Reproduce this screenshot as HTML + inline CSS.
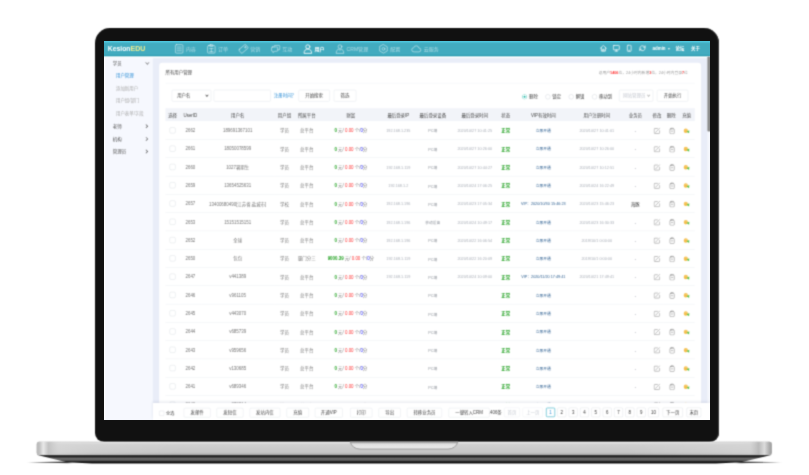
<!DOCTYPE html>
<html lang="zh-CN">
<head>
<meta charset="utf-8">
<title>KesionEDU 用户管理</title>
<style>
*{box-sizing:border-box;margin:0;padding:0}
html,body{width:809px;height:475px;overflow:hidden;background:#fff}
body{position:relative;font-family:"Liberation Sans","Noto Sans CJK SC",sans-serif}
#laptop{position:absolute;left:0;top:0;width:809px;height:475px}
#lid{position:absolute;left:94.6px;top:28px;width:624.4px;height:414px;background:#111;border-radius:15px 15px 9px 9px;box-shadow:inset -1px 0 0 #333;filter:url(#soft2)}
#screenwrap{position:absolute;left:104.1px;top:41.1px;width:605.3px;height:378.6px;overflow:hidden;background:#fff;filter:url(#soft)}
#screen{position:absolute;left:0;top:0;width:1920px;height:1200px;transform:scale(0.31526);transform-origin:0 0;background:#e9edf8;overflow:hidden;font-size:14px;color:#555;filter:none}
#basesvg{position:absolute;left:0;top:430px;width:809px;height:45px;filter:url(#soft2)}
/* ---------- app ---------- */
#hd{position:absolute;left:0;top:0;width:1920px;height:49px;background:#42abbf;border-top:5px solid #4fc7df;border-bottom:4px solid #2397ad}
#hdline{position:absolute;left:0;top:49px;width:1920px;height:5px;background:#fff}
#logo{position:absolute;left:12px;top:6px;font-size:21.6px;line-height:28px;color:#fff;font-weight:bold;letter-spacing:0}
#logo b{color:#f3ef8e;font-weight:bold;font-size:22.2px}
#side{position:absolute;left:0;top:49px;width:155px;height:1151px;background:#f6f8fe;border-left:3px solid #fff}
#main{position:absolute;left:155px;top:49px;width:1765px;height:1151px;background:#e9edf8}
#card{position:absolute;left:175px;top:69px;width:1719px;height:1200px;background:#fff;border-radius:10px}
#sbt{position:absolute;left:1914px;top:49px;width:6px;height:1100px;background:#f5f7fc}
#sb{position:absolute;left:1914px;top:49px;width:6px;height:238px;background:#8a8a8a;border-radius:3px}
#foot{position:absolute;left:155px;top:1148px;width:1765px;height:52px;background:#fff;box-shadow:0 -3px 8px rgba(120,130,160,.18)}

/* header nav */
#nav{position:absolute;left:207px;top:-2px;height:43px;display:flex;align-items:center}
#nav .it{display:flex;align-items:center;height:43px;padding:0 17.5px;color:rgba(255,255,255,.55);font-size:16px;white-space:nowrap}
#nav .it svg{width:27px;height:30px;margin-right:8px;overflow:visible;flex:none;stroke:rgba(255,255,255,.72);fill:none;stroke-width:2;stroke-linecap:round;stroke-linejoin:round}
#nav .it.on{color:#fff;font-weight:bold}
#nav .it.on svg{stroke-width:2.6;stroke:#fff}
#hr{position:absolute;right:0;top:-2px;height:43px}
#hr svg{position:absolute;top:8px;width:24px;height:24px;stroke:#fff;fill:none;stroke-width:2.2;stroke-linecap:round;stroke-linejoin:round}
#hr span{position:absolute;top:0;line-height:43px;font-size:14px;color:#fff;white-space:nowrap;font-weight:bold}
/* sidebar */
#side .g{position:absolute;left:25px;font-size:14px;color:#555;margin-top:1.5px;line-height:40px;height:40px;width:127px}
#side .g i{position:absolute;left:101px;top:15px;width:9px;height:9px;border-right:2px solid #555;border-bottom:2px solid #555;transform:rotate(-45deg)}
#side .g i.dn{transform:rotate(45deg);top:13px;left:105px}
#side .s{position:absolute;margin-top:1px;left:35px;font-size:14px;color:#aaa;line-height:40px;height:40px;white-space:nowrap}
#side .s.on{color:#2f8fd6}

/* card */
#card .tt{position:absolute;left:20px;top:18px;font-size:14px;color:#444;line-height:24px}
#card .st{position:absolute;right:42px;top:20px;font-size:12px;color:#999;line-height:24px;white-space:nowrap}
#card .st b{color:#f33}
#card .thbg{position:absolute;left:20px;top:143.5px;width:1679px;height:41.5px;background:#f2f4f9}
#card .ln{position:absolute;left:20px;top:64px;width:1679px;height:1px;background:#e6e9f0}
.ctl{position:absolute;top:86px;height:37px;border:1px solid #d5dae2;border-radius:4px;background:#fff;font-size:14px;line-height:35px;color:#444;white-space:nowrap;text-align:center}
.ctl.sel{text-align:left;padding-left:16px}
.ctl.sel i{position:absolute;right:9px;top:12px;width:7px;height:7px;border-right:2px solid #444;border-bottom:2px solid #444;transform:rotate(45deg)}
.lnk{position:absolute;top:86px;line-height:37px;font-size:14px;color:#2f8fd6;white-space:nowrap}
.rd{position:absolute;top:100px;width:16px;height:16px;border:1px solid #bfc5cd;border-radius:50%;background:#fff}
.rd.on{border:1px solid #ddf3f0;box-shadow:inset 0 0 0 4px #fff;background:#12b3a2}
.rl{position:absolute;top:88px;line-height:37px;font-size:14px;color:#444;white-space:nowrap}
/* table */
#tb{position:absolute;left:20px;top:145.5px;width:1679px;border-collapse:collapse;table-layout:fixed;font-size:14px;color:#757575}
#tb th{height:40px;background:transparent;font-weight:normal;font-size:14px;color:#444;text-align:center;white-space:nowrap;padding:0}
#tb td{height:58px;border-bottom:1px solid #e1e6ec;text-align:center;white-space:nowrap;padding:0;overflow:visible}
#tb td.l{color:#a9aeb7;font-size:12px;padding-top:3px}
#tb td.d{color:#8f949c;font-size:12px;padding-top:3px}
#tb .ck{display:inline-block;width:19px;height:19px;border:1px solid #c9ced6;border-radius:5px;vertical-align:middle;background:#fff}
#tb .g{color:#21a121;font-weight:bold}
#tb .r{color:#f33}
#tb .b{color:#22f}
#tb .ok{color:#21a121;font-weight:bold;font-size:14px}
#tb .v{color:#2a5d8f;font-size:12px}
#tb .dk{color:#333;font-size:14px}
#tb svg{width:22px;height:22px;vertical-align:middle;position:relative;top:1.5px;fill:none;stroke:#8b8b8b;stroke-width:1.7;stroke-linecap:round;stroke-linejoin:round}

/* footer */
#foot .b{position:absolute;top:16px;height:30px;border:1px solid #d5dae2;border-radius:4px;background:#fff;font-size:14px;line-height:28px;color:#444;text-align:center;white-space:nowrap}
#foot .p{position:absolute;top:15px;height:30px;border:1px solid #cfd4dc;border-radius:4px;background:#fff;font-size:14px;line-height:28px;color:#333;text-align:center;white-space:nowrap}
#foot .p.dis{color:#c6cad2;border-color:#e6e9ee}
#foot .p.on{border:2px solid #3fb3c9;color:#2f8fd6;line-height:26px}
#foot .ck{position:absolute;left:20px;top:25px;width:16px;height:16px;border:1px solid #cfd4dc;border-radius:3px;background:#fff}
#foot .t{position:absolute;font-size:13px;color:#444;line-height:30px;top:19px;white-space:nowrap}
</style>
</head>
<body>
<svg width="0" height="0" style="position:absolute"><defs>
<filter id="soft" x="0" y="0" width="1" height="1" color-interpolation-filters="sRGB"><feConvolveMatrix order="3" kernelMatrix="0.0324 0.1152 0.0324 0.1152 0.4096 0.1152 0.0324 0.1152 0.0324" edgeMode="duplicate" preserveAlpha="true"/></filter>
<filter id="soft2" x="-2%" y="-2%" width="104%" height="104%" color-interpolation-filters="sRGB"><feConvolveMatrix order="3" kernelMatrix="0.0306 0.1138 0.0306 0.1138 0.4224 0.1138 0.0306 0.1138 0.0306" edgeMode="none" preserveAlpha="false"/></filter>
</defs></svg>
<div id="laptop">
  <div id="lid"></div>
  <svg id="basesvg" viewBox="0 430 809 45">
    <defs>
      <linearGradient id="gv" x1="0" y1="0" x2="0" y2="1">
        <stop offset="0" stop-color="#b0b0b0"/><stop offset=".09" stop-color="#e6e6e6"/><stop offset=".2" stop-color="#cfcfcf"/><stop offset=".8" stop-color="#c6c6c6"/><stop offset="1" stop-color="#a8a8a8"/>
      </linearGradient>
      <linearGradient id="gh" x1="0" y1="0" x2="1" y2="0">
        <stop offset="0" stop-color="#b4b4b4"/><stop offset=".004" stop-color="#c2c2c2"/><stop offset=".009" stop-color="#e9e9e9"/><stop offset=".016" stop-color="#c2c2c2" stop-opacity=".95"/><stop offset=".03" stop-color="#dcdcdc" stop-opacity=".6"/><stop offset=".08" stop-color="#dadada" stop-opacity=".35"/><stop offset=".2" stop-color="#d6d6d6" stop-opacity="0"/>
        <stop offset=".8" stop-color="#d6d6d6" stop-opacity="0"/><stop offset=".92" stop-color="#dadada" stop-opacity=".35"/><stop offset=".97" stop-color="#d8d8d8" stop-opacity=".6"/><stop offset=".982" stop-color="#b8b8b8" stop-opacity=".95"/><stop offset=".99" stop-color="#dcdcdc"/><stop offset=".996" stop-color="#b0b0b0"/><stop offset="1" stop-color="#9a9a9a"/>
      </linearGradient>
      <linearGradient id="gu" gradientUnits="userSpaceOnUse" x1="0" y1="454.500" x2="0" y2="464">
        <stop offset="0" stop-color="#7a7a7a"/><stop offset=".14" stop-color="#1c1c1c"/><stop offset=".26" stop-color="#2a2a2a"/><stop offset=".42" stop-color="#6c6c6c"/><stop offset=".62" stop-color="#5a5a5a"/><stop offset=".8" stop-color="#0a0a0a"/><stop offset="1" stop-color="#111"/>
      </linearGradient>
      <linearGradient id="gn" x1="0" y1="0" x2="0" y2="1">
        <stop offset="0" stop-color="#8a8a8a"/><stop offset=".28" stop-color="#dedede"/><stop offset="1" stop-color="#ececec"/>
      </linearGradient>
      <filter id="bl" x="-10%" y="-400%" width="120%" height="900%"><feGaussianBlur stdDeviation="2 .5"/></filter>
    </defs>
    <path d="M28 462.300 L70 461.400 L70 463.200 Z" fill="#000" opacity=".8" filter="url(#bl)"/>
    <path d="M781 462.300 L738 461.400 L738 463.200 Z" fill="#000" opacity=".8" filter="url(#bl)"/>
    <path d="M37.500 454 L771 454 L771 455 Q757 458.500 741 462.200 L716 463.600 L92 463.600 L67 462.200 Q51 458.500 37.500 455 Z" fill="url(#gu)"/>
    <rect x="36.700" y="441.700" width="735.100" height="13.300" rx="2.200" fill="url(#gv)"/>
    <rect x="36.700" y="441.700" width="735.100" height="13.300" rx="2.200" fill="url(#gh)"/>
    <path d="M350 441.800 L458 441.800 Q455.500 449 448 449 L360 449 Q352.500 449 350 441.800 Z" fill="url(#gn)" stroke="#858585" stroke-width=".7"/>
  </svg>
  <div id="screenwrap"><div id="screen">
    <div id="main"></div>
    <div id="side">
      <div class="g" style="top:0">学员<i class="dn"></i></div>
      <div class="s on" style="top:40px">用户管理</div>
      <div class="s" style="top:80px">添加新用户</div>
      <div class="s" style="top:120px">用户组/部门</div>
      <div class="s" style="top:160px">用户表单/字段</div>
      <div class="g" style="top:200px">老师<i></i></div>
      <div class="g" style="top:240px">机构<i></i></div>
      <div class="g" style="top:280px">管理员<i></i></div>
    </div>
    <div id="card">
      <div class="tt">所有用户管理</div>
      <div class="st">总用户<b>1406</b>位，24小时内新增<b>3</b>位，24小时内登录<b>7</b>位</div>
      <div class="ln"></div><div class="thbg"></div>
      <div class="ctl sel" style="left:40px;width:125px">用户名<i></i></div>
      <div class="ctl" style="left:173px;width:181px"></div>
      <div class="lnk" style="left:364px">注册时间？</div>
      <div class="ctl" style="left:442px;width:99px">开始搜索</div>
      <div class="ctl" style="left:554px;width:71px">筛选</div>
      <div class="rd on" style="left:1151px"></div><div class="rl" style="left:1173px">删除</div>
      <div class="rd" style="left:1225px"></div><div class="rl" style="left:1247px">锁定</div>
      <div class="rd" style="left:1299px"></div><div class="rl" style="left:1321px">解锁</div>
      <div class="rd" style="left:1373px"></div><div class="rl" style="left:1395px">移动到</div>
      <div class="ctl sel" style="left:1459px;width:108px;color:#c3c7cf;padding-left:12px">网站管理员<i style="border-color:#aaa;right:10px"></i></div>
      <div class="ctl" style="left:1579px;width:99px">开始执行</div>
<table id="tb"><colgroup><col style="width:45px"><col style="width:68px"><col style="width:232px"><col style="width:65px"><col style="width:76px"><col style="width:204px"><col style="width:97px"><col style="width:122px"><col style="width:144px"><col style="width:52px"><col style="width:187px"><col style="width:152px"><col style="width:93px"><col style="width:44px"><col style="width:46px"><col style="width:52px"></colgroup>
<tr><th>选择</th><th>UserID</th><th>用户名</th><th>用户组</th><th>所属平台</th><th>财富</th><th>最后登录IP</th><th>最后登录设备</th><th>最后登录时间</th><th>状态</th><th>VIP有效时间</th><th>用户注册时间</th><th>业务员</th><th>修改</th><th>删除</th><th>充值</th></tr>
<tr><td><span class="ck"></span></td><td>2662</td><td>189691367101</td><td>学员</td><td>总平台</td><td><span class="g">0</span> 元/ <span class="r">0.00</span> 个/<span class="b">0</span>分</td><td class="l">192.168.1.235</td><td class="d">PC端</td><td class="l">2020/10/27 10:41:25</td><td><span class="ok">正常</span></td><td><span class="v">立即开通</span></td><td class="l">2020/10/27 10:41:01</td><td class="d">-</td><td><svg viewBox="0 0 22 22"><path d="M19.500 10.500V17a2.500 2.500 0 0 1-2.500 2.500H4.500a2.500 2.500 0 0 1-2.500-2.500V6a2.500 2.500 0 0 1 2.500-2.500h8"/><path d="M7 15.500L19.500 2.500"/></svg></td><td><svg viewBox="0 0 22 22" style="margin-left:6px"><rect x="4" y="4.500" width="14" height="16" rx="3"/><path d="M7.500 4.500V2h7v2.500M8.500 12h5"/></svg></td><td><svg viewBox="0 0 22 22" style="stroke:none"><path d="M2 10.500C2 6 5 3.600 8.500 3.600S15 6 15 10.500 12.500 17.700 8.500 17.700 2 15 2 10.500z" fill="#f5bd4a"/><path d="M5 8.500c1.500-2 5.500-2 7 0" stroke="#fadc94" stroke-width="1.800" fill="none"/><path d="M10.800 13.500L19.600 9 19 19z" fill="#5ac24a"/></svg></td></tr>
<tr><td><span class="ck"></span></td><td>2661</td><td>18050078599</td><td>学员</td><td>总平台</td><td><span class="g">0</span> 元/ <span class="r">0.00</span> 个/<span class="b">0</span>分</td><td class="l"></td><td class="d">PC端</td><td class="l">2020/10/27 10:26:00</td><td><span class="ok">正常</span></td><td><span class="v">立即开通</span></td><td class="l">2020/10/27 10:26:00</td><td class="d">-</td><td><svg viewBox="0 0 22 22"><path d="M19.500 10.500V17a2.500 2.500 0 0 1-2.500 2.500H4.500a2.500 2.500 0 0 1-2.500-2.500V6a2.500 2.500 0 0 1 2.500-2.500h8"/><path d="M7 15.500L19.500 2.500"/></svg></td><td><svg viewBox="0 0 22 22" style="margin-left:6px"><rect x="4" y="4.500" width="14" height="16" rx="3"/><path d="M7.500 4.500V2h7v2.500M8.500 12h5"/></svg></td><td><svg viewBox="0 0 22 22" style="stroke:none"><path d="M2 10.500C2 6 5 3.600 8.500 3.600S15 6 15 10.500 12.500 17.700 8.500 17.700 2 15 2 10.500z" fill="#f5bd4a"/><path d="M5 8.500c1.500-2 5.500-2 7 0" stroke="#fadc94" stroke-width="1.800" fill="none"/><path d="M10.800 13.500L19.600 9 19 19z" fill="#5ac24a"/></svg></td></tr>
<tr><td><span class="ck"></span></td><td>2660</td><td>1027暑期生</td><td>学员</td><td>总平台</td><td><span class="g">0</span> 元/ <span class="r">0.00</span> 个/<span class="b">0</span>分</td><td class="l">192.168.1.119</td><td class="d">PC端</td><td class="l">2020/10/27 10:44:27</td><td><span class="ok">正常</span></td><td><span class="v">立即开通</span></td><td class="l">2020/10/27 10:12:51</td><td class="d">-</td><td><svg viewBox="0 0 22 22"><path d="M19.500 10.500V17a2.500 2.500 0 0 1-2.500 2.500H4.500a2.500 2.500 0 0 1-2.500-2.500V6a2.500 2.500 0 0 1 2.500-2.500h8"/><path d="M7 15.500L19.500 2.500"/></svg></td><td><svg viewBox="0 0 22 22" style="margin-left:6px"><rect x="4" y="4.500" width="14" height="16" rx="3"/><path d="M7.500 4.500V2h7v2.500M8.500 12h5"/></svg></td><td><svg viewBox="0 0 22 22" style="stroke:none"><path d="M2 10.500C2 6 5 3.600 8.500 3.600S15 6 15 10.500 12.500 17.700 8.500 17.700 2 15 2 10.500z" fill="#f5bd4a"/><path d="M5 8.500c1.500-2 5.500-2 7 0" stroke="#fadc94" stroke-width="1.800" fill="none"/><path d="M10.800 13.500L19.600 9 19 19z" fill="#5ac24a"/></svg></td></tr>
<tr><td><span class="ck"></span></td><td>2659</td><td>13654525631</td><td>学员</td><td>总平台</td><td><span class="g">0</span> 元/ <span class="r">0.00</span> 个/<span class="b">0</span>分</td><td class="l">192.168.1.2</td><td class="d">PC端</td><td class="l">2020/10/24 17:06:25</td><td><span class="ok">正常</span></td><td><span class="v">立即开通</span></td><td class="l">2020/10/24 16:22:49</td><td class="d">-</td><td><svg viewBox="0 0 22 22"><path d="M19.500 10.500V17a2.500 2.500 0 0 1-2.500 2.500H4.500a2.500 2.500 0 0 1-2.500-2.500V6a2.500 2.500 0 0 1 2.500-2.500h8"/><path d="M7 15.500L19.500 2.500"/></svg></td><td><svg viewBox="0 0 22 22" style="margin-left:6px"><rect x="4" y="4.500" width="14" height="16" rx="3"/><path d="M7.500 4.500V2h7v2.500M8.500 12h5"/></svg></td><td><svg viewBox="0 0 22 22" style="stroke:none"><path d="M2 10.500C2 6 5 3.600 8.500 3.600S15 6 15 10.500 12.500 17.700 8.500 17.700 2 15 2 10.500z" fill="#f5bd4a"/><path d="M5 8.500c1.500-2 5.500-2 7 0" stroke="#fadc94" stroke-width="1.800" fill="none"/><path d="M10.800 13.500L19.600 9 19 19z" fill="#5ac24a"/></svg></td></tr>
<tr><td><span class="ck"></span></td><td>2657</td><td>13400680490[江苏省,盐城市]</td><td>学校</td><td>总平台</td><td><span class="g">0</span> 元/ <span class="r">0.00</span> 个/<span class="b">0</span>分</td><td class="l">192.168.1.196</td><td class="d">PC端</td><td class="l">2020/10/23 17:05:34</td><td><span class="ok">正常</span></td><td><span class="v">VIP：2020/10/30 15:46:23</span></td><td class="l">2020/10/23 15:46:23</td><td class="d"><span class="dk">海豚</span></td><td><svg viewBox="0 0 22 22"><path d="M19.500 10.500V17a2.500 2.500 0 0 1-2.500 2.500H4.500a2.500 2.500 0 0 1-2.500-2.500V6a2.500 2.500 0 0 1 2.500-2.500h8"/><path d="M7 15.500L19.500 2.500"/></svg></td><td><svg viewBox="0 0 22 22" style="margin-left:6px"><rect x="4" y="4.500" width="14" height="16" rx="3"/><path d="M7.500 4.500V2h7v2.500M8.500 12h5"/></svg></td><td><svg viewBox="0 0 22 22" style="stroke:none"><path d="M2 10.500C2 6 5 3.600 8.500 3.600S15 6 15 10.500 12.500 17.700 8.500 17.700 2 15 2 10.500z" fill="#f5bd4a"/><path d="M5 8.500c1.500-2 5.500-2 7 0" stroke="#fadc94" stroke-width="1.800" fill="none"/><path d="M10.800 13.500L19.600 9 19 19z" fill="#5ac24a"/></svg></td></tr>
<tr><td><span class="ck"></span></td><td>2653</td><td>15151515151</td><td>学员</td><td>总平台</td><td><span class="g">0</span> 元/ <span class="r">0.00</span> 个/<span class="b">0</span>分</td><td class="l">192.168.1.196</td><td class="d">移动设备</td><td class="l">2020/10/24 10:49:17</td><td><span class="ok">正常</span></td><td><span class="v">立即开通</span></td><td class="l">2020/10/23 16:30:33</td><td class="d">-</td><td><svg viewBox="0 0 22 22"><path d="M19.500 10.500V17a2.500 2.500 0 0 1-2.500 2.500H4.500a2.500 2.500 0 0 1-2.500-2.500V6a2.500 2.500 0 0 1 2.500-2.500h8"/><path d="M7 15.500L19.500 2.500"/></svg></td><td><svg viewBox="0 0 22 22" style="margin-left:6px"><rect x="4" y="4.500" width="14" height="16" rx="3"/><path d="M7.500 4.500V2h7v2.500M8.500 12h5"/></svg></td><td><svg viewBox="0 0 22 22" style="stroke:none"><path d="M2 10.500C2 6 5 3.600 8.500 3.600S15 6 15 10.500 12.500 17.700 8.500 17.700 2 15 2 10.500z" fill="#f5bd4a"/><path d="M5 8.500c1.500-2 5.500-2 7 0" stroke="#fadc94" stroke-width="1.800" fill="none"/><path d="M10.800 13.500L19.600 9 19 19z" fill="#5ac24a"/></svg></td></tr>
<tr><td><span class="ck"></span></td><td>2652</td><td>全球</td><td>学员</td><td>总平台</td><td><span class="g">0</span> 元/ <span class="r">0.00</span> 个/<span class="b">0</span>分</td><td class="l">192.168.1.196</td><td class="d">PC端</td><td class="l">2020/10/22 16:06:54</td><td><span class="ok">正常</span></td><td><span class="v">立即开通</span></td><td class="l">2019/10/1 0:00:00</td><td class="d">-</td><td><svg viewBox="0 0 22 22"><path d="M19.500 10.500V17a2.500 2.500 0 0 1-2.500 2.500H4.500a2.500 2.500 0 0 1-2.500-2.500V6a2.500 2.500 0 0 1 2.500-2.500h8"/><path d="M7 15.500L19.500 2.500"/></svg></td><td><svg viewBox="0 0 22 22" style="margin-left:6px"><rect x="4" y="4.500" width="14" height="16" rx="3"/><path d="M7.500 4.500V2h7v2.500M8.500 12h5"/></svg></td><td><svg viewBox="0 0 22 22" style="stroke:none"><path d="M2 10.500C2 6 5 3.600 8.500 3.600S15 6 15 10.500 12.500 17.700 8.500 17.700 2 15 2 10.500z" fill="#f5bd4a"/><path d="M5 8.500c1.500-2 5.500-2 7 0" stroke="#fadc94" stroke-width="1.800" fill="none"/><path d="M10.800 13.500L19.600 9 19 19z" fill="#5ac24a"/></svg></td></tr>
<tr><td><span class="ck"></span></td><td>2650</td><td>包包</td><td>学员</td><td>厦门分三</td><td><span class="g">9000.39</span> 元/ <span class="r">0.00</span> 个/<span class="b">0</span>分</td><td class="l">192.168.1.119</td><td class="d">PC端</td><td class="l">2020/10/22 16:20:09</td><td><span class="ok">正常</span></td><td><span class="v">立即开通</span></td><td class="l">2019/10/1 0:00:00</td><td class="d">-</td><td><svg viewBox="0 0 22 22"><path d="M19.500 10.500V17a2.500 2.500 0 0 1-2.500 2.500H4.500a2.500 2.500 0 0 1-2.500-2.500V6a2.500 2.500 0 0 1 2.500-2.500h8"/><path d="M7 15.500L19.500 2.500"/></svg></td><td><svg viewBox="0 0 22 22" style="margin-left:6px"><rect x="4" y="4.500" width="14" height="16" rx="3"/><path d="M7.500 4.500V2h7v2.500M8.500 12h5"/></svg></td><td><svg viewBox="0 0 22 22" style="stroke:none"><path d="M2 10.500C2 6 5 3.600 8.500 3.600S15 6 15 10.500 12.500 17.700 8.500 17.700 2 15 2 10.500z" fill="#f5bd4a"/><path d="M5 8.500c1.500-2 5.500-2 7 0" stroke="#fadc94" stroke-width="1.800" fill="none"/><path d="M10.800 13.500L19.600 9 19 19z" fill="#5ac24a"/></svg></td></tr>
<tr><td><span class="ck"></span></td><td>2647</td><td>v441389</td><td>学员</td><td>总平台</td><td><span class="g">0</span> 元/ <span class="r">0.00</span> 个/<span class="b">0</span>分</td><td class="l">192.168.1.119</td><td class="d">PC端</td><td class="l">2020/10/24 10:09:00</td><td><span class="ok">正常</span></td><td><span class="v">VIP：2020/11/20 17:49:41</span></td><td class="l">2020/10/21 17:49:41</td><td class="d">-</td><td><svg viewBox="0 0 22 22"><path d="M19.500 10.500V17a2.500 2.500 0 0 1-2.500 2.500H4.500a2.500 2.500 0 0 1-2.500-2.500V6a2.500 2.500 0 0 1 2.500-2.500h8"/><path d="M7 15.500L19.500 2.500"/></svg></td><td><svg viewBox="0 0 22 22" style="margin-left:6px"><rect x="4" y="4.500" width="14" height="16" rx="3"/><path d="M7.500 4.500V2h7v2.500M8.500 12h5"/></svg></td><td><svg viewBox="0 0 22 22" style="stroke:none"><path d="M2 10.500C2 6 5 3.600 8.500 3.600S15 6 15 10.500 12.500 17.700 8.500 17.700 2 15 2 10.500z" fill="#f5bd4a"/><path d="M5 8.500c1.500-2 5.500-2 7 0" stroke="#fadc94" stroke-width="1.800" fill="none"/><path d="M10.800 13.500L19.600 9 19 19z" fill="#5ac24a"/></svg></td></tr>
<tr><td><span class="ck"></span></td><td>2646</td><td>v961105</td><td>学员</td><td>总平台</td><td><span class="g">0</span> 元/ <span class="r">0.00</span> 个/<span class="b">0</span>分</td><td class="l"></td><td class="d">PC端</td><td class="l"></td><td><span class="ok">正常</span></td><td><span class="v">立即开通</span></td><td class="l"></td><td class="d">-</td><td><svg viewBox="0 0 22 22"><path d="M19.500 10.500V17a2.500 2.500 0 0 1-2.500 2.500H4.500a2.500 2.500 0 0 1-2.500-2.500V6a2.500 2.500 0 0 1 2.500-2.500h8"/><path d="M7 15.500L19.500 2.500"/></svg></td><td><svg viewBox="0 0 22 22" style="margin-left:6px"><rect x="4" y="4.500" width="14" height="16" rx="3"/><path d="M7.500 4.500V2h7v2.500M8.500 12h5"/></svg></td><td><svg viewBox="0 0 22 22" style="stroke:none"><path d="M2 10.500C2 6 5 3.600 8.500 3.600S15 6 15 10.500 12.500 17.700 8.500 17.700 2 15 2 10.500z" fill="#f5bd4a"/><path d="M5 8.500c1.500-2 5.500-2 7 0" stroke="#fadc94" stroke-width="1.800" fill="none"/><path d="M10.800 13.500L19.600 9 19 19z" fill="#5ac24a"/></svg></td></tr>
<tr><td><span class="ck"></span></td><td>2645</td><td>v443070</td><td>学员</td><td>总平台</td><td><span class="g">0</span> 元/ <span class="r">0.00</span> 个/<span class="b">0</span>分</td><td class="l"></td><td class="d">PC端</td><td class="l"></td><td><span class="ok">正常</span></td><td><span class="v">立即开通</span></td><td class="l"></td><td class="d">-</td><td><svg viewBox="0 0 22 22"><path d="M19.500 10.500V17a2.500 2.500 0 0 1-2.500 2.500H4.500a2.500 2.500 0 0 1-2.500-2.500V6a2.500 2.500 0 0 1 2.500-2.500h8"/><path d="M7 15.500L19.500 2.500"/></svg></td><td><svg viewBox="0 0 22 22" style="margin-left:6px"><rect x="4" y="4.500" width="14" height="16" rx="3"/><path d="M7.500 4.500V2h7v2.500M8.500 12h5"/></svg></td><td><svg viewBox="0 0 22 22" style="stroke:none"><path d="M2 10.500C2 6 5 3.600 8.500 3.600S15 6 15 10.500 12.500 17.700 8.500 17.700 2 15 2 10.500z" fill="#f5bd4a"/><path d="M5 8.500c1.500-2 5.500-2 7 0" stroke="#fadc94" stroke-width="1.800" fill="none"/><path d="M10.800 13.500L19.600 9 19 19z" fill="#5ac24a"/></svg></td></tr>
<tr><td><span class="ck"></span></td><td>2644</td><td>v685739</td><td>学员</td><td>总平台</td><td><span class="g">0</span> 元/ <span class="r">0.00</span> 个/<span class="b">0</span>分</td><td class="l"></td><td class="d">PC端</td><td class="l"></td><td><span class="ok">正常</span></td><td><span class="v">立即开通</span></td><td class="l"></td><td class="d">-</td><td><svg viewBox="0 0 22 22"><path d="M19.500 10.500V17a2.500 2.500 0 0 1-2.500 2.500H4.500a2.500 2.500 0 0 1-2.500-2.500V6a2.500 2.500 0 0 1 2.500-2.500h8"/><path d="M7 15.500L19.500 2.500"/></svg></td><td><svg viewBox="0 0 22 22" style="margin-left:6px"><rect x="4" y="4.500" width="14" height="16" rx="3"/><path d="M7.500 4.500V2h7v2.500M8.500 12h5"/></svg></td><td><svg viewBox="0 0 22 22" style="stroke:none"><path d="M2 10.500C2 6 5 3.600 8.500 3.600S15 6 15 10.500 12.500 17.700 8.500 17.700 2 15 2 10.500z" fill="#f5bd4a"/><path d="M5 8.500c1.500-2 5.500-2 7 0" stroke="#fadc94" stroke-width="1.800" fill="none"/><path d="M10.800 13.500L19.600 9 19 19z" fill="#5ac24a"/></svg></td></tr>
<tr><td><span class="ck"></span></td><td>2643</td><td>v959656</td><td>学员</td><td>总平台</td><td><span class="g">0</span> 元/ <span class="r">0.00</span> 个/<span class="b">0</span>分</td><td class="l"></td><td class="d">PC端</td><td class="l"></td><td><span class="ok">正常</span></td><td><span class="v">立即开通</span></td><td class="l"></td><td class="d">-</td><td><svg viewBox="0 0 22 22"><path d="M19.500 10.500V17a2.500 2.500 0 0 1-2.500 2.500H4.500a2.500 2.500 0 0 1-2.500-2.500V6a2.500 2.500 0 0 1 2.500-2.500h8"/><path d="M7 15.500L19.500 2.500"/></svg></td><td><svg viewBox="0 0 22 22" style="margin-left:6px"><rect x="4" y="4.500" width="14" height="16" rx="3"/><path d="M7.500 4.500V2h7v2.500M8.500 12h5"/></svg></td><td><svg viewBox="0 0 22 22" style="stroke:none"><path d="M2 10.500C2 6 5 3.600 8.500 3.600S15 6 15 10.500 12.500 17.700 8.500 17.700 2 15 2 10.500z" fill="#f5bd4a"/><path d="M5 8.500c1.500-2 5.500-2 7 0" stroke="#fadc94" stroke-width="1.800" fill="none"/><path d="M10.800 13.500L19.600 9 19 19z" fill="#5ac24a"/></svg></td></tr>
<tr><td><span class="ck"></span></td><td>2642</td><td>v130685</td><td>学员</td><td>总平台</td><td><span class="g">0</span> 元/ <span class="r">0.00</span> 个/<span class="b">0</span>分</td><td class="l"></td><td class="d">PC端</td><td class="l"></td><td><span class="ok">正常</span></td><td><span class="v">立即开通</span></td><td class="l"></td><td class="d">-</td><td><svg viewBox="0 0 22 22"><path d="M19.500 10.500V17a2.500 2.500 0 0 1-2.500 2.500H4.500a2.500 2.500 0 0 1-2.500-2.500V6a2.500 2.500 0 0 1 2.500-2.500h8"/><path d="M7 15.500L19.500 2.500"/></svg></td><td><svg viewBox="0 0 22 22" style="margin-left:6px"><rect x="4" y="4.500" width="14" height="16" rx="3"/><path d="M7.500 4.500V2h7v2.500M8.500 12h5"/></svg></td><td><svg viewBox="0 0 22 22" style="stroke:none"><path d="M2 10.500C2 6 5 3.600 8.500 3.600S15 6 15 10.500 12.500 17.700 8.500 17.700 2 15 2 10.500z" fill="#f5bd4a"/><path d="M5 8.500c1.500-2 5.500-2 7 0" stroke="#fadc94" stroke-width="1.800" fill="none"/><path d="M10.800 13.500L19.600 9 19 19z" fill="#5ac24a"/></svg></td></tr>
<tr><td><span class="ck"></span></td><td>2641</td><td>v689346</td><td>学员</td><td>总平台</td><td><span class="g">0</span> 元/ <span class="r">0.00</span> 个/<span class="b">0</span>分</td><td class="l"></td><td class="d">PC端</td><td class="l"></td><td><span class="ok">正常</span></td><td><span class="v">立即开通</span></td><td class="l"></td><td class="d">-</td><td><svg viewBox="0 0 22 22"><path d="M19.500 10.500V17a2.500 2.500 0 0 1-2.500 2.500H4.500a2.500 2.500 0 0 1-2.500-2.500V6a2.500 2.500 0 0 1 2.500-2.500h8"/><path d="M7 15.500L19.500 2.500"/></svg></td><td><svg viewBox="0 0 22 22" style="margin-left:6px"><rect x="4" y="4.500" width="14" height="16" rx="3"/><path d="M7.500 4.500V2h7v2.500M8.500 12h5"/></svg></td><td><svg viewBox="0 0 22 22" style="stroke:none"><path d="M2 10.500C2 6 5 3.600 8.500 3.600S15 6 15 10.500 12.500 17.700 8.500 17.700 2 15 2 10.500z" fill="#f5bd4a"/><path d="M5 8.500c1.500-2 5.500-2 7 0" stroke="#fadc94" stroke-width="1.800" fill="none"/><path d="M10.800 13.500L19.600 9 19 19z" fill="#5ac24a"/></svg></td></tr>
<tr><td><span class="ck"></span></td><td>2640</td><td>v272814</td><td>学员</td><td>总平台</td><td><span class="g">0</span> 元/ <span class="r">0.00</span> 个/<span class="b">0</span>分</td><td class="l"></td><td class="d">PC端</td><td class="l"></td><td><span class="ok">正常</span></td><td><span class="v">立即开通</span></td><td class="l"></td><td class="d">-</td><td><svg viewBox="0 0 22 22"><path d="M19.500 10.500V17a2.500 2.500 0 0 1-2.500 2.500H4.500a2.500 2.500 0 0 1-2.500-2.500V6a2.500 2.500 0 0 1 2.500-2.500h8"/><path d="M7 15.500L19.500 2.500"/></svg></td><td><svg viewBox="0 0 22 22" style="margin-left:6px"><rect x="4" y="4.500" width="14" height="16" rx="3"/><path d="M7.500 4.500V2h7v2.500M8.500 12h5"/></svg></td><td><svg viewBox="0 0 22 22" style="stroke:none"><path d="M2 10.500C2 6 5 3.600 8.500 3.600S15 6 15 10.500 12.500 17.700 8.500 17.700 2 15 2 10.500z" fill="#f5bd4a"/><path d="M5 8.500c1.500-2 5.500-2 7 0" stroke="#fadc94" stroke-width="1.800" fill="none"/><path d="M10.800 13.500L19.600 9 19 19z" fill="#5ac24a"/></svg></td></tr>
</table>
    </div>
    <div id="hd"><div id="logo">Kesion<b>EDU</b></div>
      <div id="nav">
        <div class="it"><svg viewBox="0 0 27 30"><rect x="1.5" y="1.5" width="24" height="27" rx="3.5"/><path d="M7 9h13M7 15h13M7 21h13"/></svg>内容</div>
        <div class="it"><svg viewBox="0 0 27 30"><rect x="1.5" y="4.500" width="24" height="24" rx="3.500"/><rect x="8.500" y="1.500" width="10" height="6" rx="1.500"/><path d="M8 14h11M13.500 14v10M8 24h11"/></svg>订单</div>
        <div class="it"><svg viewBox="0 0 27 30"><g transform="rotate(-40 13.500 15)"><rect x="-.5" y="7.500" width="28" height="15" rx="3"/><circle cx="21" cy="15" r="2.200"/></g></svg>营销</div>
        <div class="it"><svg viewBox="0 0 27 30"><path d="M8.500 8.500 V6.500 a2.500 2.500 0 0 1 2.500-2.500 h13 a2.500 2.500 0 0 1 2.500 2.500 v9 a2.500 2.500 0 0 1-2.500 2.500 h-3"/><path d="M3 9 h14.500 a2.500 2.500 0 0 1 2.500 2.500 v8.500 a2.500 2.500 0 0 1-2.500 2.500 h-7.500 l-4.500 4.500 v-4.500 h-2.500 a2.500 2.500 0 0 1-2.500-2.500 v-8.500 a2.500 2.500 0 0 1 2.500-2.500z"/></svg>互动</div>
        <div class="it on"><svg viewBox="0 0 27 30"><circle cx="13.500" cy="8.500" r="6.500"/><path d="M1.500 28 c0-8 5-12.500 12-12.500 s12 4.500 12 12.500 z"/></svg>用户</div>
        <div class="it"><svg viewBox="0 0 27 30"><circle cx="13.500" cy="8" r="6"/><path d="M1.500 28 c0-8 4.500-11.500 8.500-12.500 l3.500 4.500 l3.500-4.500 c4 1 8.500 4.500 8.500 12.500 z"/></svg>CRM管理</div>
        <div class="it"><svg viewBox="0 0 27 30"><path d="M13.500 1.500 L25.500 8.300 V21.700 L13.500 28.500 L1.500 21.700 V8.300 Z"/><circle cx="13.500" cy="15" r="4.500"/></svg>配置</div>
        <div class="it"><svg viewBox="0 0 31 30" style="width:31px"><path d="M8 24.500 a6.500 6.500 0 0 1-.8-13 a8.500 8.500 0 0 1 16.600 1 a6 6 0 0 1 .7 12 z"/></svg>云服务</div>
      </div>
      <div id="hr">
        <svg style="left:-348px" viewBox="0 0 24 24"><path d="M2.500 12 L12 3 L21.500 12 M5.500 10 V21 H18.500 V10"/><path d="M10 21v-6h4v6"/></svg>
        <svg style="left:-307px" viewBox="0 0 24 24"><rect x="2.500" y="3" width="19" height="14" rx="2"/><path d="M8 21h8M12 17v4"/></svg>
        <svg style="left:-266px" viewBox="0 0 24 24"><rect x="6" y="2" width="12" height="20" rx="2.500"/><path d="M10.500 18.500h3"/></svg>
        <svg style="left:-224px" viewBox="0 0 24 24"><path d="M3.500 13 a8.500 8.500 0 0 1 16-4.500 M20.500 11 a8.500 8.500 0 0 1-16 4.500"/><path d="M20.500 4.500v4.500h-4.500M3.500 19.500v-4.500h4.500"/></svg>
        <span style="left:-180px">admin</span>
        <i style="position:absolute;left:-132px;top:20px;border:4.500px solid transparent;border-top:5px solid #fff"></i>
        <span style="left:-107px">论坛</span>
        <span style="left:-58px">关于</span>
      </div>
</div>
    <div id="hdline"></div>
    <div id="sbt"></div><div id="sb"></div>
    <div id="foot">
      <span class="ck"></span><span class="t" style="left:42px">全选</span>
      <div class="b" style="left:98px;width:85px">发邮件</div>
      <div class="b" style="left:202px;width:85px">发短信</div>
      <div class="b" style="left:307px;width:97px">发站内信</div>
      <div class="b" style="left:424px;width:71px">充值</div>
      <div class="b" style="left:514px;width:88px">开通VIP</div>
      <div class="b" style="left:626px;width:70px">打印</div>
      <div class="b" style="left:716px;width:70px">导出</div>
      <div class="b" style="left:806px;width:111px">转移业务员</div>
      <span class="t" style="left:1061.5px;color:#444;top:16px;font-size:14px">1406条</span>
      <div class="b" style="left:938px;width:130px">一键转入CRM</div>
      <div class="p dis" style="left:1114px;width:50px">首页</div>
      <div class="p dis" style="left:1173px;width:64px">上一页</div>
      <div class="p on" style="left:1247px;width:29px">1</div>
      <div class="p" style="left:1283px;width:28px">2</div>
      <div class="p" style="left:1319px;width:28px">3</div>
      <div class="p" style="left:1355px;width:28px">4</div>
      <div class="p" style="left:1391px;width:28px">5</div>
      <div class="p" style="left:1427px;width:28px">6</div>
      <div class="p" style="left:1463px;width:28px">7</div>
      <div class="p" style="left:1499px;width:28px">8</div>
      <div class="p" style="left:1535px;width:28px">9</div>
      <div class="p" style="left:1571px;width:34px">10</div>
      <div class="p" style="left:1617px;width:64px">下一页</div>
      <div class="p" style="left:1693px;width:46px">末页</div>
    </div>
  </div></div>
</div>
</body>
</html>
